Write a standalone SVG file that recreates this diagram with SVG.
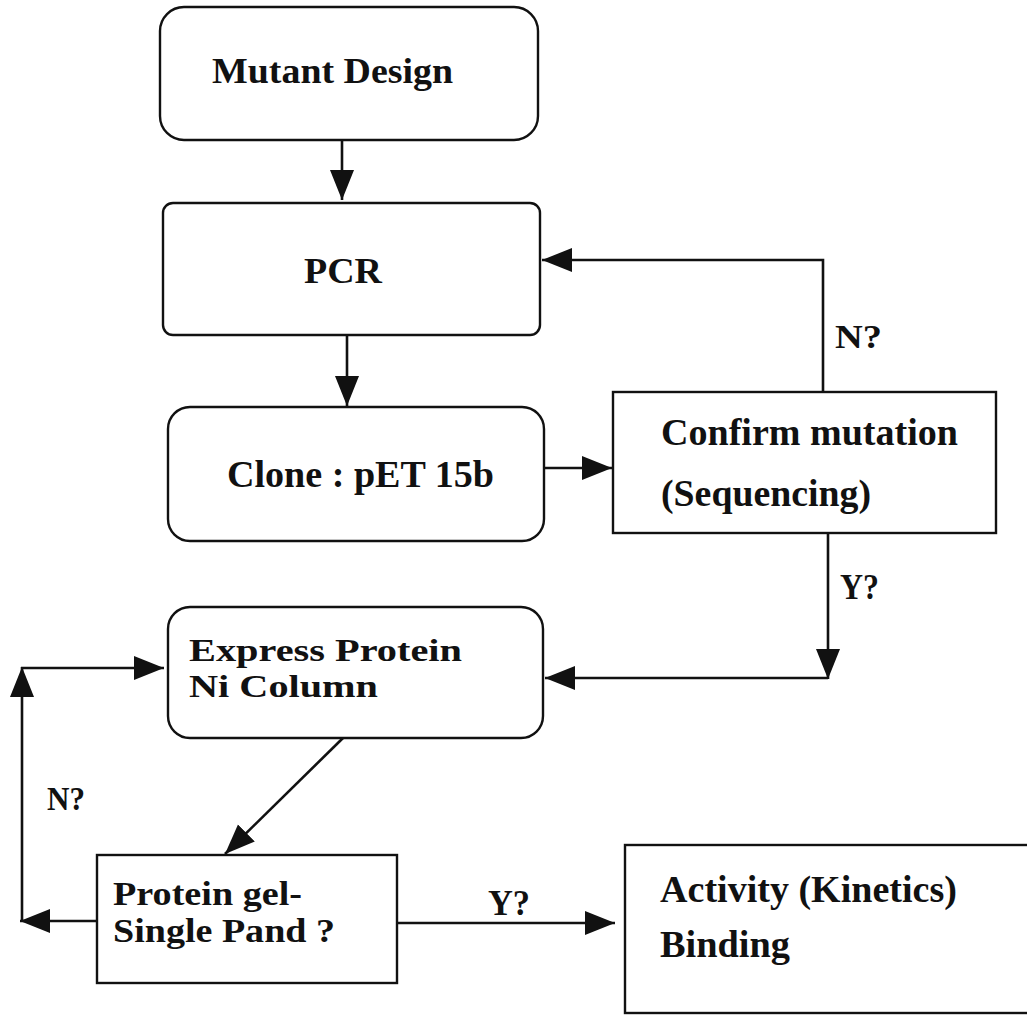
<svg xmlns="http://www.w3.org/2000/svg" width="1027" height="1015" viewBox="0 0 1027 1015">
<style>
.box{fill:#fff;stroke:#111;stroke-width:2.4}
.edge{fill:none;stroke:#111;stroke-width:2.6}
.t{font-family:"Liberation Serif","Times New Roman",serif;font-weight:bold;fill:#111}
</style>
<defs>
<marker id="ah" markerUnits="userSpaceOnUse" markerWidth="32" markerHeight="26" refX="30" refY="12" orient="auto">
<path d="M0,0 L30,12 L0,24 Z" fill="#111"/>
</marker>
</defs>
<rect width="1027" height="1015" fill="#fff"/>
<g id="connectors">
<line class="edge" x1="342" y1="140" x2="342" y2="200" marker-end="url(#ah)"/>
<line class="edge" x1="347" y1="335" x2="347" y2="406" marker-end="url(#ah)"/>
<line class="edge" x1="544" y1="468" x2="612" y2="468" marker-end="url(#ah)"/>
<polyline class="edge" points="823,391 823,260 542,260" marker-end="url(#ah)"/>
<line class="edge" x1="828" y1="533" x2="828" y2="679" marker-end="url(#ah)"/>
<line class="edge" x1="828" y1="678" x2="545" y2="678" marker-end="url(#ah)"/>
<line class="edge" x1="343" y1="738" x2="225" y2="854" marker-end="url(#ah)"/>
<line class="edge" x1="97" y1="921" x2="20" y2="921" marker-end="url(#ah)"/>
<line class="edge" x1="22" y1="921" x2="22" y2="667" marker-end="url(#ah)"/>
<line class="edge" x1="21" y1="668" x2="164" y2="668" marker-end="url(#ah)"/>
<line class="edge" x1="397" y1="923" x2="615" y2="923" marker-end="url(#ah)"/>
<text class="t" x="835" y="348" font-size="34" textLength="47" lengthAdjust="spacingAndGlyphs">N?</text>
<text class="t" x="840" y="599" font-size="35" textLength="39" lengthAdjust="spacingAndGlyphs">Y?</text>
<text class="t" x="47" y="810" font-size="34" textLength="38" lengthAdjust="spacingAndGlyphs">N?</text>
<text class="t" x="488" y="915" font-size="35" textLength="42" lengthAdjust="spacingAndGlyphs">Y?</text>
</g>
<g id="mutant-design">
<rect class="box" x="160" y="7" width="378" height="133" rx="24"/>
<text class="t" x="212" y="83" font-size="35" textLength="241" lengthAdjust="spacingAndGlyphs">Mutant Design</text>
</g>
<g id="pcr">
<rect class="box" x="163" y="203" width="377" height="132" rx="10"/>
<text class="t" x="304" y="283" font-size="35" textLength="78" lengthAdjust="spacingAndGlyphs">PCR</text>
</g>
<g id="clone">
<rect class="box" x="168" y="407" width="376" height="134" rx="22"/>
<text class="t" x="227" y="487" font-size="38" textLength="267" lengthAdjust="spacingAndGlyphs">Clone : pET 15b</text>
</g>
<g id="confirm">
<rect class="box" x="613" y="392" width="383" height="141"/>
<text class="t" x="661" y="445" font-size="37" textLength="297" lengthAdjust="spacingAndGlyphs">Confirm mutation</text>
<text class="t" x="661" y="506" font-size="37" textLength="210" lengthAdjust="spacingAndGlyphs">(Sequencing)</text>
</g>
<g id="express">
<rect class="box" x="168" y="607" width="375" height="131" rx="22"/>
<text class="t" x="189" y="661" font-size="32" textLength="273" lengthAdjust="spacingAndGlyphs">Express Protein</text>
<text class="t" x="189" y="697" font-size="32" textLength="189" lengthAdjust="spacingAndGlyphs">Ni Column</text>
</g>
<g id="protein-gel">
<rect class="box" x="97" y="855" width="300" height="128"/>
<text class="t" x="113" y="905" font-size="33" textLength="189" lengthAdjust="spacingAndGlyphs">Protein gel-</text>
<text class="t" x="113" y="942" font-size="33" textLength="222" lengthAdjust="spacingAndGlyphs">Single Pand ?</text>
</g>
<g id="activity">
<rect class="box" x="625" y="845" width="420" height="168"/>
<text class="t" x="660" y="902" font-size="37" textLength="297" lengthAdjust="spacingAndGlyphs">Activity (Kinetics)</text>
<text class="t" x="660" y="957" font-size="37" textLength="130" lengthAdjust="spacingAndGlyphs">Binding</text>
</g>
</svg>
